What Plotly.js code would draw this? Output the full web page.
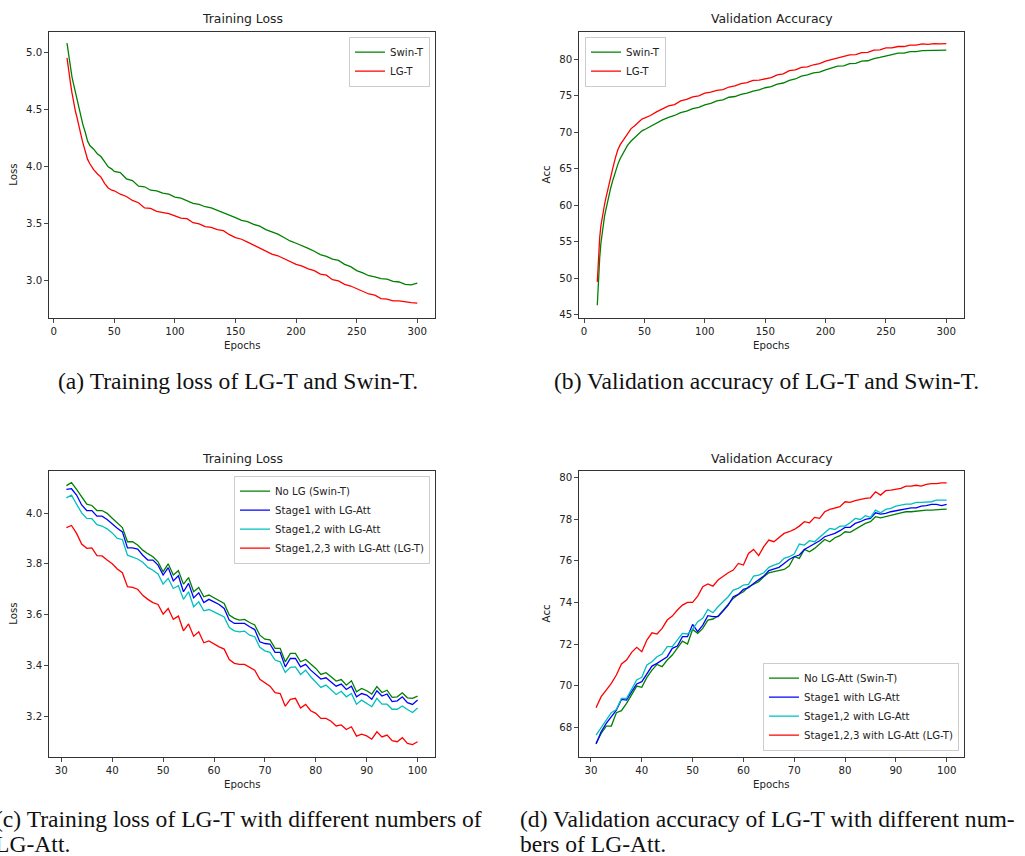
<!DOCTYPE html>
<html><head><meta charset="utf-8">
<script src="https://cdn.plot.ly/plotly-3.0.1.min.js"></script>
<style>html,body{margin:0;padding:0;background:#fff}#chart{width:1025px;height:856px}</style>
</head><body><div id="chart"></div>
<script>
// ---------- data: (a)/(b) ----------
const epochsTop = [11,12,13,14,15,16,17,18,19,20,22,24,26,28,30,33,36,39,42,45,48,
 50,55,60,65,70,75,80,85,90,95,100,105,110,115,120,125,130,135,140,145,150,155,160,165,170,175,180,185,190,195,
 200,205,210,215,220,225,230,235,240,245,250,255,260,265,270,275,280,285,290,295,300];
const swinLoss = [5.08,5.00,4.93,4.86,4.79,4.74,4.69,4.64,4.60,4.56,4.47,4.37,4.30,4.22,4.18,4.15,4.11,4.085,4.04,3.995,3.975,
 3.955,3.945,3.89,3.875,3.825,3.82,3.79,3.785,3.765,3.755,3.73,3.72,3.70,3.675,3.665,3.645,3.635,3.615,3.595,3.57,
 3.55,3.525,3.515,3.49,3.475,3.445,3.425,3.405,3.375,3.345,3.325,3.305,3.28,3.255,3.225,3.21,3.185,3.175,3.14,3.12,
 3.085,3.065,3.04,3.03,3.015,3.01,2.99,2.985,2.965,2.96,2.975];
const lgtLoss = [4.95,4.86,4.79,4.72,4.65,4.58,4.53,4.48,4.44,4.40,4.30,4.21,4.13,4.06,4.02,3.97,3.935,3.905,3.85,3.81,3.79,
 3.785,3.755,3.735,3.70,3.68,3.635,3.63,3.605,3.595,3.585,3.565,3.545,3.54,3.505,3.495,3.47,3.465,3.445,3.435,3.40,
 3.375,3.36,3.335,3.31,3.28,3.26,3.23,3.215,3.19,3.165,3.14,3.125,3.10,3.085,3.055,3.045,3.005,2.995,2.965,2.95,
 2.925,2.905,2.88,2.87,2.84,2.835,2.82,2.82,2.81,2.805,2.80];
const swinAcc = [46.3,50.0,52.8,54.8,56.2,57.4,58.5,59.3,60.1,60.9,62.3,63.5,64.6,65.6,66.4,67.4,68.2,68.8,69.3,69.8,70.2,
 70.35,70.8,71.3,71.7,72.05,72.3,72.7,72.9,73.25,73.4,73.75,73.95,74.3,74.45,74.8,74.9,75.2,75.35,75.65,75.8,
 76.1,76.25,76.6,76.75,77.1,77.3,77.7,77.85,78.15,78.25,78.55,78.75,79.05,79.1,79.4,79.45,79.75,79.8,80.1,80.25,
 80.5,80.65,80.85,80.85,81.05,81.05,81.2,81.2,81.3,81.3,81.25];
const lgtAcc = [49.5,53.5,55.6,57.2,58.4,59.3,60.1,60.9,61.7,62.4,63.7,65.2,66.5,67.6,68.3,69.0,69.7,70.5,70.9,71.4,71.8,
 71.95,72.3,72.8,73.15,73.6,73.8,74.3,74.5,74.85,75.0,75.35,75.5,75.75,75.85,76.2,76.35,76.65,76.8,77.1,77.15,
 77.35,77.5,77.85,78.0,78.45,78.55,78.9,78.95,79.25,79.4,79.75,79.95,80.25,80.35,80.6,80.65,80.9,80.95,81.25,81.3,
 81.55,81.55,81.75,81.75,81.95,81.95,82.1,82.05,82.15,82.1,82.15];

// ---------- data: (c)/(d) ----------
const epochsBot = [31,32,33,34,35,36,37,38,39,40,41,42,43,44,45,46,47,48,49,50,51,52,53,54,55,56,57,58,59,60,
 61,62,63,64,65,66,67,68,69,70,71,72,73,74,75,76,77,78,79,80,81,82,83,84,85,86,87,88,89,90,91,92,93,94,95,96,97,98,99,100];
const noLgLoss = [4.108,4.12,4.093,4.062,4.035,4.03,4.01,4.01,3.999,3.98,
 3.96,3.943,3.887,3.887,3.874,3.854,3.84,3.828,3.808,3.769,
 3.80,3.756,3.773,3.72,3.746,3.69,3.707,3.67,3.677,3.666,
 3.657,3.644,3.598,3.585,3.578,3.581,3.569,3.559,3.519,3.503,
 3.50,3.467,3.467,3.414,3.447,3.447,3.414,3.423,3.405,3.388,
 3.364,3.371,3.355,3.338,3.344,3.322,3.339,3.296,3.309,3.30,
 3.287,3.316,3.293,3.302,3.274,3.276,3.292,3.272,3.27,3.279];
const stage1Loss = [4.093,4.096,4.071,4.032,4.01,4.01,3.988,3.988,3.975,3.957,
 3.94,3.926,3.863,3.863,3.858,3.834,3.815,3.815,3.795,3.756,
 3.785,3.733,3.753,3.69,3.723,3.666,3.686,3.647,3.66,3.65,
 3.64,3.624,3.578,3.565,3.565,3.565,3.552,3.541,3.493,3.486,
 3.484,3.451,3.451,3.394,3.427,3.427,3.394,3.404,3.381,3.364,
 3.346,3.351,3.335,3.318,3.326,3.305,3.318,3.276,3.289,3.283,
 3.266,3.30,3.279,3.287,3.257,3.26,3.276,3.253,3.246,3.263];
const stage12Loss = [4.06,4.071,4.035,4.001,3.979,3.978,3.954,3.949,3.938,3.922,
 3.90,3.896,3.834,3.828,3.819,3.806,3.786,3.775,3.76,3.72,
 3.743,3.703,3.714,3.66,3.69,3.631,3.65,3.615,3.62,3.611,
 3.60,3.591,3.549,3.536,3.532,3.535,3.519,3.513,3.471,3.457,
 3.451,3.421,3.414,3.372,3.392,3.394,3.364,3.381,3.355,3.335,
 3.313,3.322,3.302,3.285,3.298,3.276,3.289,3.247,3.263,3.25,
 3.237,3.27,3.247,3.247,3.227,3.227,3.24,3.226,3.214,3.232];
const stage123Loss = [3.943,3.951,3.92,3.878,3.861,3.863,3.832,3.831,3.815,3.80,
 3.78,3.765,3.71,3.707,3.70,3.676,3.66,3.647,3.64,3.602,
 3.624,3.581,3.594,3.536,3.563,3.515,3.532,3.489,3.496,3.484,
 3.473,3.464,3.423,3.408,3.404,3.404,3.394,3.381,3.345,3.331,
 3.318,3.292,3.289,3.239,3.266,3.27,3.232,3.246,3.221,3.211,
 3.191,3.191,3.18,3.161,3.165,3.147,3.158,3.121,3.129,3.122,
 3.109,3.138,3.118,3.125,3.103,3.099,3.115,3.092,3.088,3.099];
const noLgAcc = [67.23,67.71,68.06,68.06,68.7,68.8,69.15,69.55,69.98,69.92,
 70.4,70.75,71.02,70.91,71.23,71.47,71.79,72.14,72.0,72.7,
 72.51,72.75,73.15,73.2,73.34,73.63,73.87,74.19,74.38,74.51,
 74.75,74.86,74.99,75.23,75.42,75.47,75.52,75.58,75.74,76.19,
 76.11,76.54,76.43,76.59,76.8,77.02,76.91,77.1,77.2,77.39,
 77.36,77.5,77.63,77.79,77.87,78.11,78.06,78.11,78.19,78.24,
 78.3,78.35,78.35,78.38,78.38,78.43,78.43,78.46,78.46,78.48];
const stage1Acc = [67.2,67.79,68.19,68.54,68.83,69.34,69.31,69.71,70.08,70.19,
 70.59,70.94,71.07,71.23,71.39,71.79,71.9,72.35,72.35,72.94,
 72.59,72.91,73.36,73.31,73.31,73.58,73.87,74.27,74.38,74.62,
 74.7,74.91,75.1,75.26,75.52,75.6,75.68,75.87,76.06,76.19,
 76.27,76.54,76.67,76.83,76.96,77.15,77.23,77.31,77.44,77.6,
 77.6,77.79,77.87,77.98,78.03,78.3,78.24,78.27,78.35,78.4,
 78.46,78.51,78.54,78.54,78.62,78.64,78.7,78.7,78.64,78.7];
const stage12Acc = [67.63,68.0,68.38,68.7,68.86,69.39,69.39,69.87,70.27,70.4,
 70.99,71.15,71.39,71.52,71.87,71.87,72.22,72.51,72.48,72.7,
 73.07,73.23,73.66,73.5,73.79,74.03,74.27,74.59,74.67,74.83,
 74.86,75.26,75.31,75.42,75.68,75.79,75.87,76.11,76.19,76.32,
 76.8,76.75,76.96,76.91,77.15,77.34,77.55,77.5,77.66,77.66,
 77.82,78.03,77.98,78.16,78.08,78.43,78.3,78.46,78.51,78.62,
 78.67,78.72,78.72,78.8,78.8,78.83,78.83,78.91,78.91,78.91];
const stage123Acc = [68.94,69.47,69.79,70.11,70.51,71.04,71.23,71.6,71.84,71.63,
 72.19,72.54,72.48,72.75,73.15,73.34,73.63,73.87,74.0,74.0,
 74.3,74.75,74.88,74.78,75.07,75.26,75.42,75.55,75.87,75.79,
 76.35,76.54,76.24,76.67,76.99,76.91,77.1,77.31,77.39,77.5,
 77.66,77.87,77.82,78.08,78.03,78.35,78.46,78.51,78.59,78.83,
 78.8,78.88,78.94,78.99,79.02,79.31,79.15,79.36,79.39,79.42,
 79.47,79.58,79.58,79.62,79.58,79.66,79.7,79.7,79.74,79.74];

// ---------- tick labels / texts ----------
const xTicksTop = [0,50,100,150,200,250,300];
const yTicksA = [3.0,3.5,4.0,4.5,5.0];
const yTicksB = [45,50,55,60,65,70,75,80];
const xTicksBot = [30,40,50,60,70,80,90,100];
const yTicksC = [3.2,3.4,3.6,3.8,4.0];
const yTicksD = [68,70,72,74,76,78,80];
const namesTop = ['Swin-T','LG-T'];
const namesC = ['No LG (Swin-T)','Stage1 with LG-Att','Stage1,2 with LG-Att','Stage1,2,3 with LG-Att (LG-T)'];
const namesD = ['No LG-Att (Swin-T)','Stage1 with LG-Att','Stage1,2 with LG-Att','Stage1,2,3 with LG-Att (LG-T)'];
const captions = {
  a: '(a) Training loss of LG-T and Swin-T.',
  b: '(b) Validation accuracy of LG-T and Swin-T.',
  c1: '(c) Training loss of LG-T with different numbers of',
  c2: 'LG-Att.',
  d1: '(d) Validation accuracy of LG-T with different num-',
  d2: 'bers of LG-Att.'
};

// ---------- layout helpers ----------
const W = 1025, H = 856;
const px = v => v / W, py = v => 1 - v / H;
const GREEN = '#008000', RED = '#ff0000', BLUE = '#0000ff', CYAN = '#00bfbf';
const LW = 1.3;
const FONT = 'DejaVu Sans';
const TXT = '#222';

function line(x, y, name, color, xa, ya, lg) {
  return {type: 'scatter', mode: 'lines', x: x, y: y, name: name, xaxis: xa, yaxis: ya, legend: lg,
          line: {color: color, width: LW}, hoverinfo: 'skip'};
}
const traces = [
  line(epochsTop, swinLoss, namesTop[0], GREEN, 'x', 'y', 'legend'),
  line(epochsTop, lgtLoss, namesTop[1], RED, 'x', 'y', 'legend'),
  line(epochsTop, swinAcc, namesTop[0], GREEN, 'x2', 'y2', 'legend2'),
  line(epochsTop, lgtAcc, namesTop[1], RED, 'x2', 'y2', 'legend2'),
  line(epochsBot, noLgLoss, namesC[0], GREEN, 'x3', 'y3', 'legend3'),
  line(epochsBot, stage1Loss, namesC[1], BLUE, 'x3', 'y3', 'legend3'),
  line(epochsBot, stage12Loss, namesC[2], CYAN, 'x3', 'y3', 'legend3'),
  line(epochsBot, stage123Loss, namesC[3], RED, 'x3', 'y3', 'legend3'),
  line(epochsBot, noLgAcc, namesD[0], GREEN, 'x4', 'y4', 'legend4'),
  line(epochsBot, stage1Acc, namesD[1], BLUE, 'x4', 'y4', 'legend4'),
  line(epochsBot, stage12Acc, namesD[2], CYAN, 'x4', 'y4', 'legend4'),
  line(epochsBot, stage123Acc, namesD[3], RED, 'x4', 'y4', 'legend4')
];

function axis(domain, range, tickvals, fmt, anchor) {
  return {domain: domain, range: range, tickvals: tickvals, tickformat: fmt, anchor: anchor,
          showgrid: false, zeroline: false, showline: true, mirror: true,
          linecolor: '#333', linewidth: 1, ticks: 'outside', ticklen: 4, tickwidth: 0.9,
          tickcolor: '#333', tickfont: {family: FONT, size: 10.2, color: TXT}, fixedrange: true};
}
const xL = [px(49.3), px(435)], xR = [px(579.3), px(964.3)];
const yT = [py(317.7), py(31.7)], yB = [py(756.7), py(470.7)];

function legend(x, y, xa, ya) {
  return {x: x, y: y, xanchor: xa, yanchor: ya, xref: 'paper', yref: 'paper',
          bgcolor: 'rgba(255,255,255,0.8)', bordercolor: '#cccccc', borderwidth: 1,
          font: {family: FONT, size: 10.2, color: TXT}, itemwidth: 30, tracegroupgap: 0};
}
function ann(text, x, y, opts) {
  return Object.assign({text: text, x: x, y: y, xref: 'paper', yref: 'paper', showarrow: false,
          xanchor: 'center', yanchor: 'middle', font: {family: FONT, size: 10.2, color: TXT}}, opts || {});
}
const titleFont = {family: FONT, size: 12.4, color: TXT};
const capFont = {family: 'Liberation Serif', size: 23.6, color: '#111'};

const annotations = [
  ann('Training Loss', px(242.2), py(19), {font: titleFont}),
  ann('Validation Accuracy', px(771.8), py(19), {font: titleFont}),
  ann('Training Loss', px(242.2), py(458.3), {font: titleFont}),
  ann('Validation Accuracy', px(771.8), py(458.3), {font: titleFont}),
  ann('Epochs', px(242.2), py(345)),
  ann('Epochs', px(771.8), py(345)),
  ann('Epochs', px(242.2), py(784)),
  ann('Epochs', px(771.8), py(784)),
  ann('Loss', px(14), py(174.7), {textangle: -90}),
  ann('Acc', px(546.7), py(174.7), {textangle: -90}),
  ann('Loss', px(14), py(613.7), {textangle: -90}),
  ann('Acc', px(546.7), py(613.7), {textangle: -90}),
  ann(captions.a, px(56), py(381), {xanchor: 'left', font: capFont}),
  ann(captions.b, px(552), py(381), {xanchor: 'left', font: capFont}),
  ann(captions.c1, px(-7), py(819), {xanchor: 'left', font: capFont}),
  ann(captions.c2, px(-7), py(844), {xanchor: 'left', font: capFont}),
  ann(captions.d1, px(518), py(819), {xanchor: 'left', font: capFont}),
  ann(captions.d2, px(518), py(844), {xanchor: 'left', font: capFont})
];

const layout = {
  width: W, height: H, margin: {l: 0, r: 0, t: 0, b: 0},
  paper_bgcolor: '#fff', plot_bgcolor: '#fff',
  font: {family: FONT, size: 10.2, color: TXT},
  xaxis: axis(xL, [-3.6, 314.6], xTicksTop, 'd', 'y'),
  yaxis: axis(yT, [2.672, 5.18], yTicksA, '.1f', 'x'),
  xaxis2: axis(xR, [-3.9, 314.9], xTicksTop, 'd', 'y2'),
  yaxis2: axis(yT, [44.59, 83.78], yTicksB, 'd', 'x2'),
  xaxis3: axis(xL, [27.64, 103.42], xTicksBot, 'd', 'y3'),
  yaxis3: axis(yB, [3.04, 4.167], yTicksC, '.1f', 'x3'),
  xaxis4: axis(xR, [27.7, 103.47], xTicksBot, 'd', 'y4'),
  yaxis4: axis(yB, [66.59, 80.32], yTicksD, 'd', 'x4'),
  legend: legend(px(430), py(36.7), 'right', 'top'),
  legend2: legend(px(585), py(36.7), 'left', 'top'),
  legend3: legend(px(430), py(475.7), 'right', 'top'),
  legend4: legend(px(959), py(750.7), 'right', 'bottom'),
  showlegend: true,
  annotations: annotations
};

Plotly.newPlot('chart', traces, layout, {staticPlot: true, displayModeBar: false});
</script>
</body></html>
